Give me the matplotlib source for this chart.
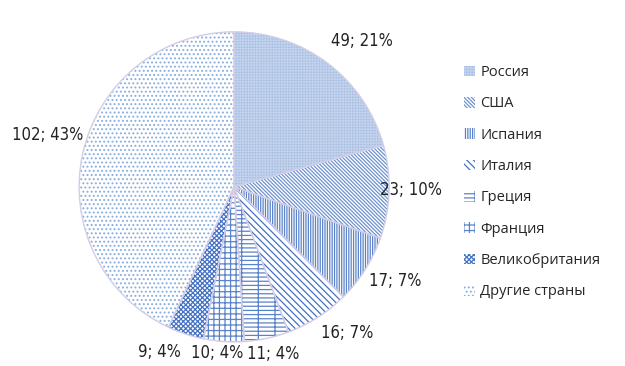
import matplotlib
matplotlib.use('Agg')
import matplotlib.pyplot as plt
import numpy as np

# ── Data ───────────────────────────────────────────────────────────────
countries = ["Россия", "США", "Испания", "Италия", "Греция", "Франция",
             "Великобритания", "Другие страны"]
counts = [49, 23, 17, 16, 11, 10, 9, 102]
shares = [21, 10, 7, 7, 4, 4, 4, 43]   # % as printed on the chart

# ── Style per slice ────────────────────────────────────────────────────
fills = ["#a3bbe1", "white", "white", "white", "white", "white", "white", "white"]
hatch_cols = ["#c2d2ec", "#6f93cf", "#5b83c9", "#4472c4", "#5b83c9", "#5b83c9", "#4472c4", "#8aaee0"]
hatches = ["++++++", "\\" * 9, "|" * 7, "\\" * 5, "----|", "+++", "xxxxxxx", "...."]
# label placement: radius (in pie radii) and angle nudge (deg)
lbl_r = [1.25, 1.14, 1.20, 1.19, 1.11, 1.08, 1.17, 1.25]
lbl_da = [-4, 1, 2, 5, 1, -2, -6, -3]

plt.rcParams['hatch.linewidth'] = 0.9
fig = plt.figure(figsize=(6.25, 3.66), dpi=100)
ax = fig.add_axes([0.1266, 0.066, 0.496, 0.847])

wedges, _ = ax.pie(counts, startangle=90, counterclock=False, colors=fills,
                   wedgeprops=dict(linewidth=0))
for w, h, hc in zip(wedges, hatches, hatch_cols):
    w.set_hatch(h)
    w.set_edgecolor(hc)
    w.set_linewidth(0)
# slice outlines on top
ax.pie(counts, startangle=90, counterclock=False,
       wedgeprops=dict(fill=False, linewidth=1.0, edgecolor="#d3cde6"))

lbl_font = dict(family='DejaVu Sans', stretch='condensed')
total = sum(counts)
for i, (c, s) in enumerate(zip(counts, shares)):
    theta = 90.0 - 360.0 * (sum(counts[:i]) + c / 2) / total + lbl_da[i]
    x, y = lbl_r[i] * np.cos(np.radians(theta)), lbl_r[i] * np.sin(np.radians(theta))
    ax.text(x, y, f"{c}; {s}%", ha='center', va='center', fontsize=12,
            color="#222222", **lbl_font)
ax.set_xlim(-1, 1)
ax.set_ylim(-1, 1)
ax.set_aspect('equal')

leg = fig.legend(wedges, countries, loc='upper left', bbox_to_anchor=(0.722, 0.858),
                 frameon=False, handlelength=0.75, handleheight=0.75,
                 handletextpad=0.35, labelspacing=1.12,
                 prop=dict(family='Open Sans', size=10.5))
for t in leg.get_texts():
    t.set_color("#262626")

fig.savefig("out.png", dpi=100)
